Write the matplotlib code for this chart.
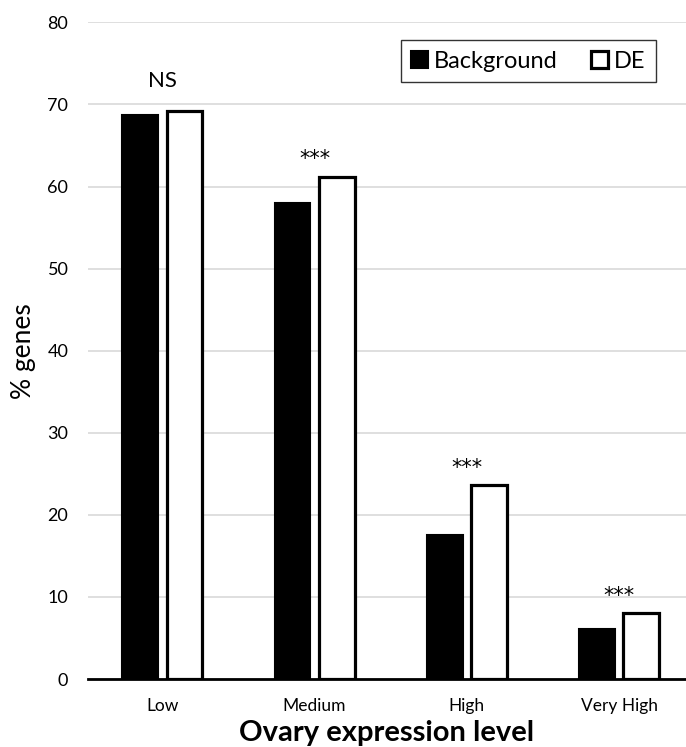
import matplotlib.pyplot as plt
import numpy as np

# data
levels = ['Low', 'Medium', 'High', 'Very High']
background = [68.7, 58.0, 17.6, 6.1]
de = [69.2, 61.2, 23.6, 8.0]
signif = ['NS', '***', '***', '***']

plt.rcParams['font.family'] = ['Lato', 'DejaVu Sans']

fig = plt.figure(figsize=(6.86, 7.47), dpi=100)
ax = fig.add_axes([0.128, 0.091, 0.872, 0.879])

x = np.arange(len(levels))
w = 0.235
ax.bar(x - 0.145, background, w, color='black', edgecolor='black',
       linewidth=1.5, label='Background', zorder=3)
ax.bar(x + 0.145, de, w, color='white', edgecolor='black',
       linewidth=2.3, label='DE', zorder=3)

# significance marks above each group
for i, s in enumerate(signif):
    top = max(background[i], de[i])
    if s == 'NS':
        ax.text(x[i], top + 2.9, s, ha='center', va='baseline', fontsize=16)
    else:
        ax.text(x[i], top + 1.4, s, ha='center', va='baseline', fontsize=15,
                family='DejaVu Sans')

ax.set_ylim(0, 80)
ax.set_xlim(-0.49, 3.44)
ax.set_yticks(range(0, 81, 10))
ax.set_xticks(x)
ax.set_xticklabels(levels)
ax.tick_params(axis='both', length=0)
ax.tick_params(axis='x', labelsize=12.5, pad=14)
ax.tick_params(axis='y', labelsize=13, pad=14)

ax.grid(axis='y', color='#d9d9d9', linewidth=1.2, zorder=0)
for side in ['top', 'right', 'left']:
    ax.spines[side].set_visible(False)
ax.spines['bottom'].set_linewidth(2)
ax.spines['bottom'].set_zorder(4)

ax.set_ylabel('% genes', fontsize=19, labelpad=8)
ax.set_xlabel('Ovary expression level', fontsize=21, fontweight='bold',
              labelpad=4)

leg = ax.legend(loc='upper right', bbox_to_anchor=(0.95, 0.973), ncol=2,
                fontsize=17, frameon=True, fancybox=False, handlelength=0.72,
                handleheight=0.72, handletextpad=0.25, columnspacing=1.4,
                borderpad=0.45, borderaxespad=0)
leg.get_frame().set_edgecolor('black')
leg.get_frame().set_linewidth(1.0)

fig.savefig('out.png', dpi=100)
